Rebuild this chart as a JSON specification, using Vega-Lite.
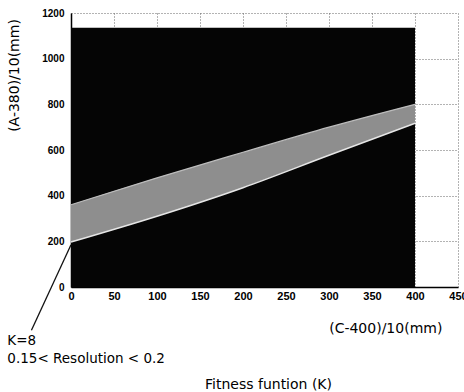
{
  "$schema": "https://vega.github.io/schema/vega-lite/v6.json",
  "width": 387,
  "height": 274,
  "autosize": {"type": "none"},
  "padding": {"left": 71, "top": 13, "right": 6, "bottom": 105},
  "background": "white",
  "config": {"view": {"stroke": null}},
  "datasets": {
    "bg": [{"x0": 0, "x1": 400, "y0": 0, "y1": 1135}],
    "band": [
      {"c": 0, "lo": 197, "hi": 360},
      {"c": 100, "lo": 310, "hi": 478},
      {"c": 200, "lo": 435, "hi": 590},
      {"c": 300, "lo": 577, "hi": 700},
      {"c": 400, "lo": 717, "hi": 800}
    ],
    "arrow": [{"xa": -46, "ya": -189, "xb": 0, "yb": 185}],
    "notesLeft": [
      {"tx": -74, "ty": -254, "label": "K=8"},
      {"tx": -74, "ty": -333, "label": "0.15< Resolution < 0.2"}
    ],
    "notesCenter": [
      {"tx": 366, "ty": -202, "label": "(C-400)/10(mm)"}
    ]
  },
  "layer": [
    {
      "data": {"name": "bg"},
      "mark": {"type": "rect", "color": "#050505"},
      "encoding": {
        "x": {
          "field": "x0", "type": "quantitative",
          "scale": {"domain": [0, 450], "nice": false, "zero": true},
          "axis": {
            "values": [0, 50, 100, 150, 200, 250, 300, 350, 400, 450],
            "format": "d",
            "title": "Fitness funtion (K)",
            "titleFont": "DejaVu Sans", "titleFontSize": 14, "titleFontWeight": "normal", "titleColor": "#000",
            "titleBaseline": "alphabetic", "titleY": 101, "titleX": 197,
            "labelFont": "Liberation Sans", "labelFontSize": 11, "labelFontWeight": "bold", "labelColor": "#000",
            "labelPadding": 3, "ticks": false, "labelFlush": false, "labelOverlap": false,
            "domainColor": "#000", "domainWidth": 1.5,
            "grid": true, "gridColor": "#666", "gridDash": [1, 2], "gridWidth": 1, "gridOpacity": 1
          }
        },
        "x2": {"field": "x1"},
        "y": {
          "field": "y0", "type": "quantitative",
          "scale": {"domain": [0, 1200], "nice": false, "zero": true},
          "axis": {
            "values": [0, 200, 400, 600, 800, 1000, 1200],
            "format": "d",
            "title": "(A-380)/10(mm)",
            "titleFont": "DejaVu Sans", "titleFontSize": 14, "titleFontWeight": "normal", "titleColor": "#000",
            "titleX": -57, "titleY": 62, "titleAngle": 270, "titleAlign": "center", "titleBaseline": "middle",
            "labelFont": "Liberation Sans", "labelFontSize": 10, "labelFontWeight": "bold", "labelColor": "#000",
            "labelPadding": 7, "ticks": false, "labelFlush": false, "labelOverlap": false,
            "domainColor": "#000", "domainWidth": 1.5,
            "grid": true, "gridColor": "#666", "gridDash": [1, 2], "gridWidth": 1, "gridOpacity": 1
          }
        },
        "y2": {"field": "y1"}
      }
    },
    {
      "data": {"name": "band"},
      "mark": {"type": "area", "color": "#8e8e8e", "opacity": 1, "interpolate": "monotone"},
      "encoding": {
        "x": {"field": "c", "type": "quantitative"},
        "y": {"field": "lo", "type": "quantitative"},
        "y2": {"field": "hi"}
      }
    },
    {
      "data": {"name": "band"},
      "mark": {"type": "line", "color": "#e6e6e6", "strokeWidth": 1.5, "interpolate": "monotone"},
      "encoding": {
        "x": {"field": "c", "type": "quantitative"},
        "y": {"field": "lo", "type": "quantitative"}
      }
    },
    {
      "data": {"name": "band"},
      "mark": {"type": "line", "color": "#bdbdbd", "strokeWidth": 1.2, "interpolate": "monotone"},
      "encoding": {
        "x": {"field": "c", "type": "quantitative"},
        "y": {"field": "hi", "type": "quantitative"}
      }
    },
    {
      "data": {"name": "arrow"},
      "mark": {"type": "rule", "color": "#111", "strokeWidth": 1.3},
      "encoding": {
        "x": {"field": "xa", "type": "quantitative"},
        "y": {"field": "ya", "type": "quantitative"},
        "x2": {"field": "xb"},
        "y2": {"field": "yb"}
      }
    },
    {
      "data": {"name": "notesLeft"},
      "mark": {"type": "text", "align": "left", "baseline": "alphabetic", "font": "DejaVu Sans", "fontSize": 13.5, "color": "#000"},
      "encoding": {
        "x": {"field": "tx", "type": "quantitative"},
        "y": {"field": "ty", "type": "quantitative"},
        "text": {"field": "label"}
      }
    },
    {
      "data": {"name": "notesCenter"},
      "mark": {"type": "text", "align": "center", "baseline": "alphabetic", "font": "DejaVu Sans", "fontSize": 14, "color": "#000"},
      "encoding": {
        "x": {"field": "tx", "type": "quantitative"},
        "y": {"field": "ty", "type": "quantitative"},
        "text": {"field": "label"}
      }
    }
  ]
}
